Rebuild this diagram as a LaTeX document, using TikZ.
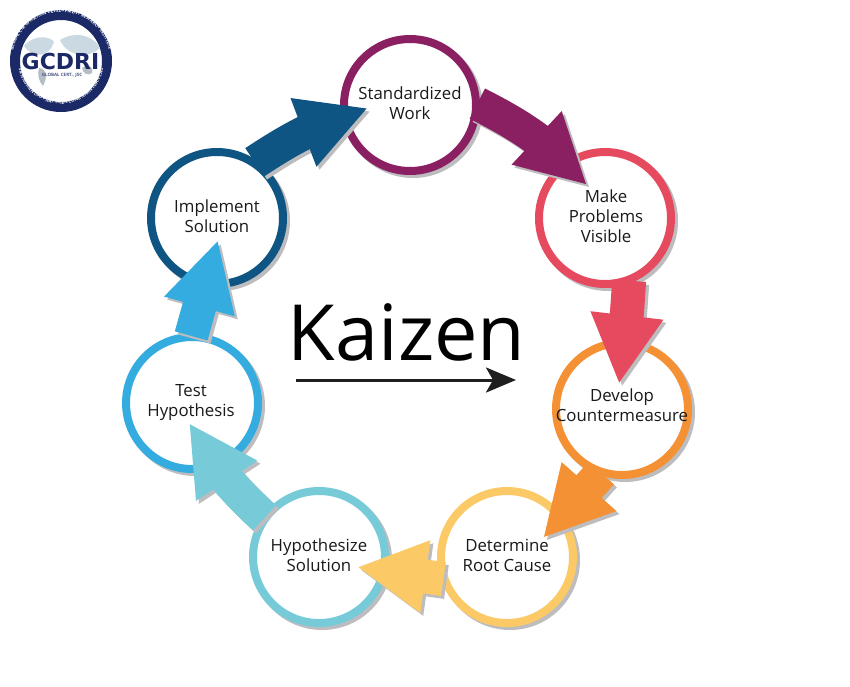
\documentclass[tikz,border=0pt]{standalone}
\usepackage{fontspec}
\setmainfont{Open Sans}
\newfontfamily\logofont{DejaVu Sans}
\usetikzlibrary{arrows.meta,shadows,decorations.text,bending}
\definecolor{shadowgray}{HTML}{BDBDC0}
\definecolor{plumcol}{HTML}{8A1F62}
\definecolor{redcol}{HTML}{E64A5F}
\definecolor{orangecol}{HTML}{F39134}
\definecolor{yellowcol}{HTML}{FBC966}
\definecolor{tealcol}{HTML}{77CBD8}
\definecolor{skycol}{HTML}{35ACDF}
\definecolor{navycol}{HTML}{0F5583}
\definecolor{logonavy}{HTML}{1B2A66}
\definecolor{logomap}{HTML}{CBD9E2}

\begin{document}
\begin{tikzpicture}[
    x=1pt, y=-1pt,
    stepring/.style={circle, minimum size=132pt, inner sep=0pt, line width=8pt, fill=white,
        general shadow={fill=shadowgray, draw=shadowgray, shadow xshift=3pt, shadow yshift=-3pt}},
    steptext/.style={anchor=base, inner sep=0pt, align=center, font=\fontsize{16.8}{20}\selectfont, text=black!90},
    flowarrow/.style={line width=34pt, shorten <=-3pt, -{Triangle[length=69pt,width=68pt,flex']}},
    flowshadow/.style={flowarrow, shadowgray, transform canvas={shift={(3pt,-3pt)}}}
]
\useasboundingbox (0,0) rectangle (850,686);

% Logo
\node[circle, minimum size=92pt, inner sep=0pt, line width=10pt, draw=logonavy, fill=white] (logo) at (61,61) {};
\fill[logomap] (24,46) .. controls (34,34) and (50,36) .. (54,42) .. controls (50,56) and (34,60) .. (24,46);
\fill[logomap] (60,40) .. controls (76,30) and (94,36) .. (100,48) .. controls (90,58) and (68,58) .. (60,40);
\fill[logomap!70!gray] (39,68) .. controls (47,69) and (48,76) .. (43,86) .. controls (39,82) and (37,74) .. (39,68);
\fill[logomap!70!gray] (82,68) .. controls (88,64) and (94,66) .. (92,73) .. controls (88,76) and (83,74) .. (82,68);
\node[font=\logofont\fontsize{22}{22}\selectfont\bfseries, text=logonavy, inner sep=0pt] (logoname) at (60.5,61) {GCDRI};
\node[font=\fontsize{4.5}{5}\selectfont\bfseries, text=logonavy!80, inner sep=0pt] (logosub) at (62,75) {GLOBAL CERT., JSC};
\path[decorate, decoration={text along path, text align=center, text={|\fontsize{4.4}{5}\selectfont\bfseries\color{white}|VIEN NGHIEN CUU PHAT TRIEN CONG NHAN TOAN CAU}}]
    (18,61) arc[start angle=180, end angle=0, radius=43];
\path[decorate, decoration={text along path, text align=center, text={|\fontsize{4.4}{5}\selectfont\bfseries\color{white}|GLOBAL CERTIFICATION DEVELOPMENT RESEARCH INSTITUTE}}]
    (12,61) arc[start angle=180, end angle=360, radius=49];

% Steps
\node[stepring, draw=plumcol] (standard) at (410,105) {};
\node[stepring, draw=redcol] (problems) at (605,218) {};
\node[stepring, draw=orangecol] (counter) at (622,409) {};
\node[stepring, draw=yellowcol] (rootcause) at (507,557) {};
\node[stepring, draw=tealcol] (hypsol) at (319,557) {};
\node[stepring, draw=skycol] (testhyp) at (192,403) {};
\node[stepring, draw=navycol] (implement) at (217,218) {};

% Tips of the arrows
\coordinate (tipstandard) at (368,108);
\coordinate (tipproblems) at (587,185);
\coordinate (tipcounter) at (619,384);
\coordinate (tiprootcause) at (543,538);
\coordinate (tiphypsol) at (357,567);
\coordinate (tiptesthyp) at (189,423);
\coordinate (tipimplement) at (218,240);

% Arrow shadows
\draw[flowshadow] (implement.55) to[bend left=8] (tipstandard);
\draw[flowshadow] (standard.0) to[bend left=10] (tipproblems);
\draw[flowshadow] (problems.-70) to[bend left=2] (tipcounter);
\draw[flowshadow] (counter.-109) to (tiprootcause);
\draw[flowshadow] (rootcause.198) to (tiphypsol);
\draw[flowshadow] (hypsol.144) to[bend left=9] (tiptesthyp);
\draw[flowshadow] (testhyp.90) to (tipimplement);

% Arrows
\draw[flowarrow, navycol] (implement.55) to[bend left=8] (tipstandard);
\draw[flowarrow, plumcol] (standard.0) to[bend left=10] (tipproblems);
\draw[flowarrow, redcol] (problems.-70) to[bend left=2] (tipcounter);
\draw[flowarrow, orangecol] (counter.-109) to (tiprootcause);
\draw[flowarrow, yellowcol] (rootcause.198) to (tiphypsol);
\draw[flowarrow, tealcol] (hypsol.144) to[bend left=9] (tiptesthyp);
\draw[flowarrow, skycol] (testhyp.90) to (tipimplement);

% Step labels
\node[steptext] (standardtext) at (410,119) {Standardized\\Work};
\node[steptext] (problemstext) at (606,242) {Make\\Problems\\Visible};
\node[steptext] (countertext) at (622,421) {Develop\\Countermeasure};
\node[steptext] (rootcausetext) at (507,571) {Determine\\Root Cause};
\node[steptext] (hypsoltext) at (319,571) {Hypothesize\\Solution};
\node[steptext] (testhyptext) at (191,416) {Test\\Hypothesis};
\node[steptext] (implementtext) at (217,232) {Implement\\Solution};

% Title
\node[font=\fontsize{77.5}{80}\selectfont, text=black, inner sep=0pt] (kaizen) at (406.5,332) {Kaizen};
\coordinate (trendstart) at (296,380);
\coordinate (trendend) at (516,380);
\draw[line width=3pt, black!88, -{Stealth[length=30pt,width=25pt,inset=7pt]}] (trendstart) -- (trendend);

\end{tikzpicture}
\end{document}
